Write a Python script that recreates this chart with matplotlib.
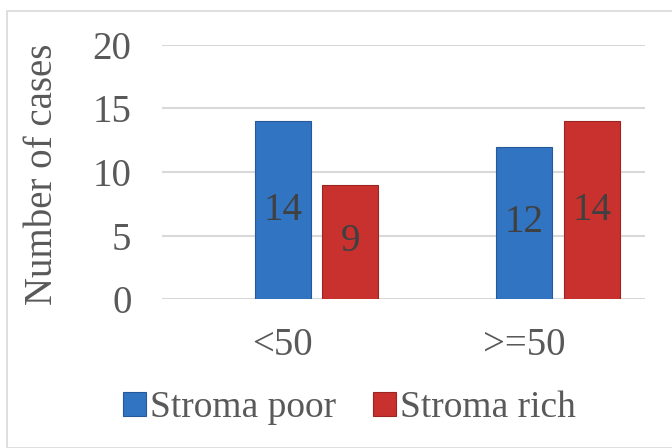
import numpy as np
import matplotlib.pyplot as plt
from matplotlib.patches import Rectangle

# age groups and case counts per stroma group
age_groups = ['<50', '>=50']
stroma_poor = [14, 12]
stroma_rich = [9, 14]
series_names = ['Stroma poor', 'Stroma rich']
yticks = [0, 5, 10, 15, 20]

plt.rcParams['font.family'] = ['Liberation Serif', 'DejaVu Serif']
txt_color = '#595959'
blue = '#3174C2'
red = '#C8312E'

fig = plt.figure(figsize=(6.72, 4.48), dpi=100)
ax = fig.add_axes([162/672, 1 - 299/448, 483/672, 254/448])

# light frame around the whole chart area
fig.patches.append(Rectangle((7/672, 0), 1, 1 - 11/448, transform=fig.transFigure,
                             fill=False, edgecolor='#D9D9D9', linewidth=1.2))

x = np.arange(len(age_groups))
w = 0.232
off = 0.28

b1 = ax.bar(x, stroma_poor, w, color=blue, edgecolor='#25599A', linewidth=0.8,
            label=series_names[0], zorder=3)
b2 = ax.bar(x + off, stroma_rich, w, color=red, edgecolor='#9A2522', linewidth=0.8,
            label=series_names[1], zorder=3)

for bars in (b1, b2):
    ax.bar_label(bars, label_type='center', fontsize=28, color='#404040')

ax.set_xlim(-0.5, 1.5)
ax.set_ylim(0, 20)
ax.set_yticks(yticks)
ax.set_xticks(x)
ax.set_xticklabels(age_groups)
ax.tick_params(axis='both', length=0, labelsize=28, colors=txt_color)
ax.tick_params(axis='y', pad=22)
ax.tick_params(axis='x', pad=20)
ax.grid(axis='y', color='#D9D9D9', linewidth=1.5, zorder=0)
ax.set_axisbelow(True)
for s in ax.spines.values():
    s.set_visible(False)

ax.set_ylabel('Number of cases', fontsize=28, color=txt_color)
ax.yaxis.set_label_coords(-0.21, 0.49)

fig.legend(loc='lower center', ncol=2, frameon=False, fontsize=27,
           labelcolor=txt_color, handlelength=0.6, handleheight=0.6,
           handletextpad=0.1, columnspacing=1.0, bbox_to_anchor=(0.52, -0.025))

fig.savefig('out.png', dpi=100)
